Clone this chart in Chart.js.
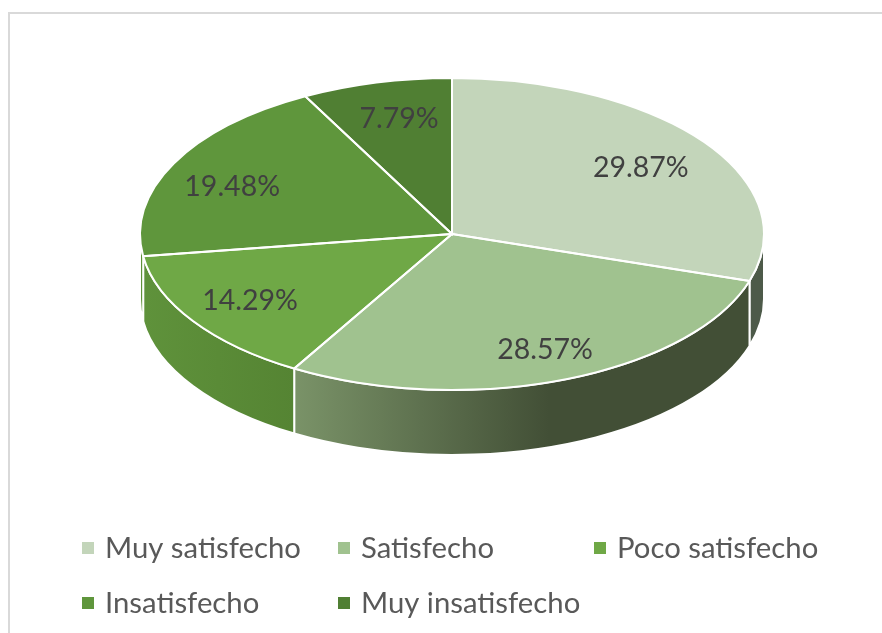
<!DOCTYPE html>
<html>
<head>
<meta charset="utf-8">
<script src="https://cdnjs.cloudflare.com/ajax/libs/Chart.js/4.4.1/chart.umd.js"></script>
<style>
    html, body { margin: 0; padding: 0; background: #fff; }
    #wrap { position: relative; width: 882px; height: 633px; overflow: hidden; }
    #frame { position: absolute; left: 8px; top: 12px; width: 900px; height: 700px; border: 2px solid #d9d9d9; }
    canvas { position: absolute; left: 0; top: 0; }
</style>
</head>
<body>
<div id="wrap">
    <div id="frame"></div>
    <canvas id="myChart" width="882" height="633"></canvas>
</div>

<script>
    // values
    var categories = ['Muy satisfecho', 'Satisfecho', 'Poco satisfecho', 'Insatisfecho', 'Muy insatisfecho'];
    var percentages = [29.87, 28.57, 14.29, 19.48, 7.79];
    var sliceColors = ['#C3D5BA', '#A0C28F', '#6FA846', '#5F963C', '#507F33'];

    // flat pie tilted into an ellipse and given a rim
    var tilt = {
        id: 'tilt',
        beforeDatasetsDraw: function (chart, args, o) {
            var ctx = chart.ctx;
            var arcs = chart.getDatasetMeta(0).data;
            var ox = arcs[0].x, oy = arcs[0].y, r = arcs[0].outerRadius;

            // rim first, only the part facing the viewer (canvas angles 0..PI)
            arcs.forEach(function (arc, i) {
                var a0 = arc.startAngle, a1 = arc.endAngle;
                var from = Math.max(a0, 0), to = Math.min(a1, Math.PI);
                if (to <= from) return;
                var x0 = ox + r * Math.cos(to), x1 = ox + r * Math.cos(from);
                var g = ctx.createLinearGradient(x0, 0, x1, 0);
                o.rimStops[i].forEach(function (s) { g.addColorStop(s[0], s[1]); });
                ctx.beginPath();
                ctx.ellipse(ox, o.cy + o.depth, r, r * o.squash, 0, from, to);
                ctx.ellipse(ox, o.cy, r, r * o.squash, 0, to, from, true);
                ctx.closePath();
                ctx.fillStyle = g;
                ctx.fill();
                ctx.strokeStyle = '#fff';
                ctx.lineWidth = 2;
                ctx.stroke();
            });

            ctx.save();
            ctx.translate(ox, o.cy);
            ctx.scale(1, o.squash);
            ctx.translate(-ox, -oy);
        },
        afterDatasetsDraw: function (chart, args, o) {
            var ctx = chart.ctx;
            ctx.restore();
            var arcs = chart.getDatasetMeta(0).data;
            var ox = arcs[0].x, r = arcs[0].outerRadius;

            // white outlines on the top face, stroked unsquashed
            arcs.forEach(function (arc) {
                ctx.beginPath();
                ctx.moveTo(ox, o.cy);
                ctx.ellipse(ox, o.cy, r, r * o.squash, 0, arc.startAngle, arc.endAngle);
                ctx.closePath();
                ctx.strokeStyle = '#fff';
                ctx.lineWidth = 2;
                ctx.stroke();
            });

            // data labels
            ctx.font = o.labelFont;
            ctx.fillStyle = '#404040';
            ctx.textAlign = 'center';
            ctx.textBaseline = 'middle';
            arcs.forEach(function (arc, i) {
                var mid = (arc.startAngle + arc.endAngle) / 2;
                var lx = ox + r * o.labelReach[i][0] * Math.cos(mid);
                var ly = o.cy + r * o.squash * o.labelReach[i][1] * Math.sin(mid);
                ctx.fillText(percentages[i].toFixed(2) + '%', lx, ly + 2);
            });

            // legend, fixed columns
            ctx.textAlign = 'left';
            ctx.font = o.legendFont;
            categories.forEach(function (name, i) {
                var col = i % 3, row = Math.floor(i / 3);
                var x = o.legendX + col * o.legendColGap;
                var y = o.legendY + row * o.legendRowGap;
                ctx.fillStyle = sliceColors[i];
                ctx.fillRect(x, y - 6, 12, 12);
                ctx.fillStyle = '#595959';
                ctx.fillText(name, x + 23, y + 1);
            });
        }
    };

    var ctx = document.getElementById('myChart').getContext('2d');
    var myChart = new Chart(ctx, {
        type: 'pie',
        plugins: [tilt],
        data: {
            labels: categories,
            datasets: [{
                data: percentages,
                backgroundColor: sliceColors,
                borderWidth: 0
            }]
        },
        options: {
            responsive: false,
            animation: false,
            events: [],
            layout: { padding: { left: 22, top: 4, bottom: 5 } },
            plugins: {
                legend: { display: false },
                tooltip: { enabled: false },
                tilt: {
                    cy: 234,
                    squash: 0.5,
                    depth: 65,
                    labelFont: '28.5px Lato',
                    legendFont: '29.3px Lato',
                    labelReach: [[0.75, 0.74], [0.83, 0.78], [0.78, 0.75], [0.79, 0.695], [0.70, 0.775]],
                    legendX: 82,
                    legendY: 548,
                    legendColGap: 256,
                    legendRowGap: 55,
                    rimStops: [
                        [[0, '#4D5A49'], [1, '#4D5A49']],
                        [[0, '#7A9368'], [0.56, '#424F36'], [1, '#424F36']],
                        [[0, '#5F923B'], [1, '#558433']],
                        [[0, '#5F923A'], [1, '#5F923A']],
                        [[0, '#507F33'], [1, '#507F33']]
                    ]
                }
            }
        }
    });
</script>
</body>
</html>
